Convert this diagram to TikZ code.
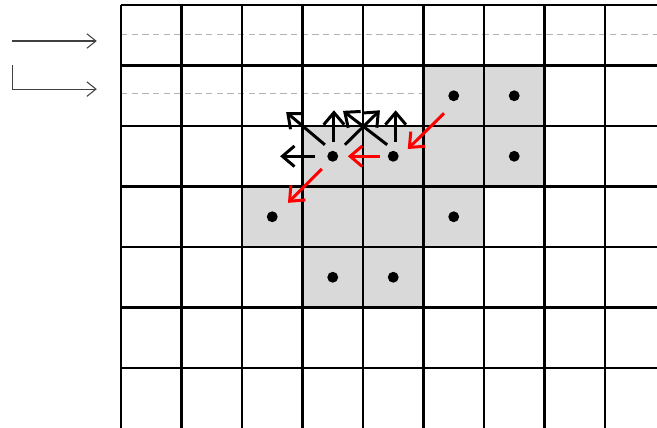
\documentclass[tikz,border=0pt]{standalone}
\usetikzlibrary{arrows.meta}
\definecolor{ccell}{RGB}{217,217,217}
\definecolor{cguide}{RGB}{178,178,178}
\definecolor{cflow}{RGB}{255,0,0}

\begin{document}
\begin{tikzpicture}[>={Straight Barb[length=2mm,width=3.4mm]},
  gridline/.style={line width=1pt},
  guide/.style={cguide,densely dashed,line width=0.5pt},
  feed/.style={black!75,line width=0.5pt,-{Straight Barb[length=1.5mm,width=2.4mm]}},
  dot/.style={circle,fill=black,inner sep=0pt,minimum size=1.8mm},
  move/.style={line width=1.4pt,->},
  flow/.style={cflow,line width=1.4pt,->}]
 \useasboundingbox (-2.0,-6.99) rectangle (8.86,0.083);
 % ---- shaded cells ----
 \foreach \c/\r in {5/1,6/1,3/2,4/2,5/2,6/2,2/3,3/3,4/3,5/3,3/4,4/4}
   \fill[ccell](\c,-\r)rectangle(\c+1,-\r-1);
 % ---- dashed guides ----
 \coordinate (ga) at (0,-0.48); \coordinate (gb) at (8.86,-0.48);
 \coordinate (gc) at (0,-1.47); \coordinate (gd) at (5,-1.47);
 \draw[guide](ga)--(gb);
 \draw[guide](gc)--(gd);
 % ---- grid ----
 \foreach \x in {0,...,8}\draw[gridline](\x,0)--(\x,-7);
 \foreach \y in {0,...,6}\draw[gridline](0,-\y)--(8.86,-\y);
 % ---- incoming arrows (left) ----
 \coordinate (ina) at (-1.80,-0.595); \coordinate (inb) at (-0.40,-0.595);
 \coordinate (inc) at (-1.80,-0.99); \coordinate (ind) at (-0.40,-1.39);
 \draw[feed](ina)--(inb);
 \draw[feed](inc)|-(ind);
 % ---- pixels ----
 \foreach \n/\c/\r in {p1/5/1,p2/6/1,p3/3/2,p4/4/2,p5/6/2,p6/2/3,p7/5/3,p8/3/4,p9/4/4}
   \node[dot](\n) at (\c+0.5,-\r-0.5){};
 % ---- candidate moves (black) ----
 \foreach \s/\xa/\ya/\xb/\yb in {p3/-0.29/0/-0.87/0, p3/-0.13/0.19/-0.77/0.73,
   p3/0.02/0.24/0.02/0.76, p3/0.2/0.19/0.78/0.76,
   p4/0.04/0.24/0.04/0.76, p4/-0.1/0.19/-0.83/0.75}
   \draw[move]([shift={(\xa,\ya)}]\s.center)--([shift={(\xb,\yb)}]\s.center);
 % ---- traced path (red) ----
 \draw[flow]([shift={(-0.16,-0.29)}]p1.center)--([shift={(0.24,0.12)}]p4.center);
 \draw[flow]([shift={(-0.22,0)}]p4.center)--([shift={(0.25,0)}]p3.center);
 \draw[flow]([shift={(-0.18,-0.21)}]p3.center)--([shift={(0.26,0.23)}]p6.center);
\end{tikzpicture}
\end{document}
